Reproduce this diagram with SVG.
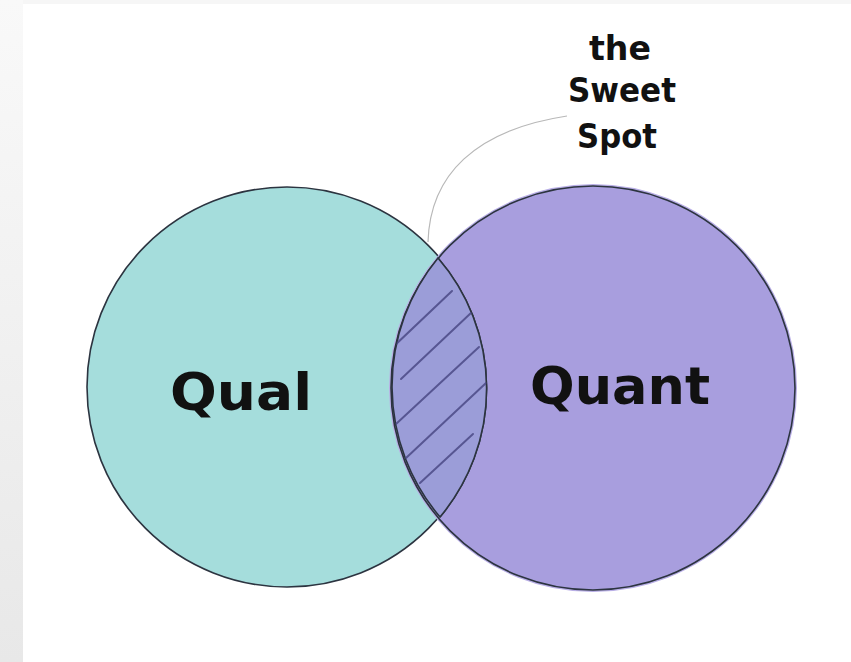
<svg xmlns="http://www.w3.org/2000/svg" width="851" height="662" viewBox="0 0 851 662">
  <defs>
    <linearGradient id="strip" x1="0" y1="0" x2="0" y2="1">
      <stop offset="0" stop-color="#f9f9f9"/>
      <stop offset="1" stop-color="#e8e8e8"/>
    </linearGradient>
    <clipPath id="lensClip">
      <path d="M438,258 A200,200 0 0,1 440,517 A202,202 0 0,1 438,258 Z"/>
    </clipPath>
  </defs>
  <style>
    .circle { stroke: #2c3440; stroke-width: 1.6; }
    .hatch { stroke: #4b4a86; stroke-width: 2; stroke-linecap: round; fill: none; opacity: 0.85; }
    .hand { font-family: "DejaVu Sans", "Liberation Sans", sans-serif; font-weight: 900; fill: #111111; }
    .leader { stroke: #b8b8b8; stroke-width: 1.2; fill: none; }
  </style>
  <rect x="0" y="0" width="851" height="662" fill="#ffffff"/>
  <rect x="0" y="0" width="23" height="662" fill="url(#strip)"/>
  <rect x="23" y="0" width="828" height="4" fill="#f6f6f6"/>

  <g id="qual">
    <circle cx="287" cy="387" r="200" fill="#a5dddc" class="circle"/>
  </g>
  <g id="quant">
    <circle cx="593" cy="388" r="203" fill="none" stroke="#b9afe6" stroke-width="2"/>
    <circle cx="593" cy="388" r="202" fill="#a89ede" class="circle"/>
    <path d="M438,258 A200,200 0 0,1 440,517" fill="none" class="circle"/>
  </g>
  <g id="sweet-spot">
    <path d="M438,258 A200,200 0 0,1 440,517 A202,202 0 0,1 438,258 Z" fill="#9b9dd8" class="circle"/>
    <g clip-path="url(#lensClip)">
      <line class="hatch" x1="392" y1="348" x2="452" y2="291"/>
      <line class="hatch" x1="401" y1="379" x2="472" y2="312"/>
      <line class="hatch" x1="396" y1="424" x2="479" y2="347"/>
      <line class="hatch" x1="406" y1="458" x2="486" y2="383"/>
      <line class="hatch" x1="420" y1="483" x2="473" y2="434"/>
    </g>
  </g>

  <g id="connectors">
    <path class="leader" d="M428,242 C430,175 475,130 567,116"/>
  </g>

  <g id="labels">
    <text class="hand" x="241" y="410" font-size="52" text-anchor="middle" textLength="142" lengthAdjust="spacingAndGlyphs">Qual</text>
    <text class="hand" x="620" y="404" font-size="52" text-anchor="middle" textLength="180" lengthAdjust="spacingAndGlyphs">Quant</text>
    <text class="hand" x="620" y="60" font-size="34" text-anchor="middle" textLength="62" lengthAdjust="spacingAndGlyphs">the</text>
    <text class="hand" x="622" y="102" font-size="34" text-anchor="middle" textLength="108" lengthAdjust="spacingAndGlyphs">Sweet</text>
    <text class="hand" x="617" y="148" font-size="34" text-anchor="middle" textLength="80" lengthAdjust="spacingAndGlyphs">Spot</text>
  </g>
</svg>
